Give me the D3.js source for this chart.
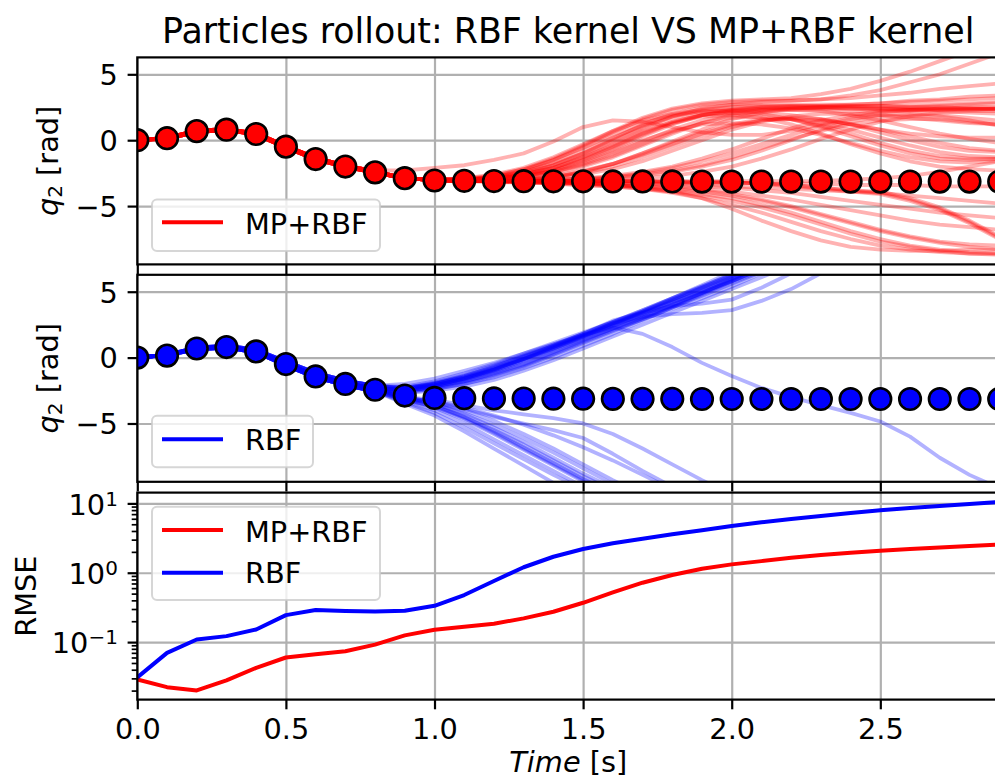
<!DOCTYPE html>
<html><head><meta charset="utf-8">
<script src="https://cdn.jsdelivr.net/npm/d3@7"></script>
<style>body{margin:0;background:#fff}svg{display:block}text{font-family:"DejaVu Sans",sans-serif;fill:#000}</style>
</head><body><svg id="chart" width="995" height="784"></svg>
<script>
// ---------------- DATA ----------------
const times = [0,0.1,0.2,0.3,0.4,0.5,0.6,0.7,0.8,0.9,1.0,1.1,1.2,1.3,1.4,1.5,1.6,1.7,1.8,1.9,2.0,2.1,2.2,2.3,2.4,2.5,2.6,2.7,2.8,2.9];
const groundTruth = [0,0.15,0.69,0.8,0.47,-0.49,-1.43,-2.0,-2.44,-2.88,-3.06,-3.08,-3.1,-3.11,-3.12,-3.12,-3.13,-3.13,-3.13,-3.14,-3.14,-3.14,-3.14,-3.14,-3.14,-3.14,-3.14,-3.14,-3.14,-3.14];
const rmseMPRBF = [0.029,0.0224,0.0201,0.028,0.0426,0.060,0.067,0.074,0.092,0.125,0.151,0.166,0.184,0.22,0.274,0.369,0.52,0.718,0.927,1.14,1.32,1.47,1.64,1.80,1.94,2.08,2.20,2.32,2.43,2.54];
const rmseRBF = [0.031,0.070,0.109,0.122,0.152,0.245,0.29,0.28,0.276,0.283,0.334,0.477,0.76,1.2,1.70,2.20,2.66,3.10,3.58,4.09,4.72,5.34,5.96,6.58,7.27,7.94,8.59,9.17,9.80,10.47];

// early (t = 0 .. 0.8 s) parts of the particle band
const PA = [0,0.15,0.68,0.8,0.47,-0.5,-1.4,-1.98,-2.42];
const PB = [0,0.12,0.62,0.78,0.42,-0.56,-1.46,-2.03,-2.47];
const PC = [0,0.18,0.72,0.84,0.52,-0.44,-1.34,-1.93,-2.37];
const QA = [0,0.2,0.7,0.82,0.5,-0.45,-1.35,-1.95,-2.35];
const QB = [0,0.22,0.75,0.9,0.6,-0.3,-1.15,-1.75,-2.15];
const QC = [0,0.18,0.62,0.75,0.4,-0.6,-1.5,-2.1,-2.55];

const redParticles = [
  [0,0.18,0.72,0.84,0.52,-0.44,-1.34,-1.93,-2.3,-2.3,-2.1,-1.9,-1.5,-1.0,-0.1,1.0,1.5,1.4,1.0,0.6,0.4,0.4,0.7,1.2,1.7,2.1,2.3,2.4,2.4,2.3],
  [...PA,-2.9,-3.0,-2.9,-2.6,-2.1,-1.3,-0.3,0.7,1.5,2.0,2.3,2.5,2.6,2.6,2.6,2.6,2.6,2.6,2.7,2.8,2.9],
  [...PB,-2.9,-3.0,-3.0,-2.8,-2.4,-1.7,-0.8,0.2,1.1,1.8,2.2,2.4,2.5,2.5,2.5,2.4,2.4,2.4,2.4,2.5,2.5],
  [...PC,-2.9,-3.0,-3.0,-2.9,-2.6,-2.1,-1.3,-0.3,0.7,1.4,1.9,2.2,2.3,2.3,2.3,2.2,2.2,2.2,2.3,2.3,2.4],
  [...PA,-2.9,-3.0,-3.1,-3.0,-2.8,-2.4,-1.8,-1.0,-0.1,0.8,1.5,2.0,2.3,2.4,2.5,2.5,2.4,2.3,2.2,2.1,2.0],
  [...PB,-2.9,-3.0,-3.0,-2.7,-2.2,-1.5,-0.6,0.4,1.3,1.9,2.2,2.2,2.1,1.9,1.6,1.2,0.8,0.5,0.3,0.2,0.2],
  [...PC,-2.9,-3.0,-3.1,-3.1,-3.0,-2.8,-2.4,-1.8,-1.0,-0.1,0.8,1.6,2.1,2.4,2.5,2.6,2.6,2.5,2.5,2.4,2.4],
  [...PA,-2.9,-3.0,-3.0,-2.8,-2.3,-1.5,-0.5,0.6,1.6,2.3,2.7,2.9,3.0,3.0,3.1,3.2,3.4,3.6,3.9,4.1,4.3],
  [...PB,-2.9,-3.0,-3.0,-2.9,-2.7,-2.3,-1.6,-0.7,0.3,1.2,1.9,2.3,2.5,2.6,2.6,2.7,2.8,3.0,3.1,3.3,3.4],
  [...PC,-2.9,-3.0,-3.1,-3.0,-2.8,-2.5,-2.0,-1.3,-0.4,0.5,1.3,1.9,2.2,2.3,2.2,1.9,1.5,1.0,0.5,0.1,-0.2],
  [...PB,-2.9,-3.0,-3.0,-2.8,-2.4,-1.8,-1.0,0.0,1.0,1.7,2.1,2.3,2.4,2.4,2.4,2.4,2.3,2.3,2.3,2.4,2.4],
  [...PC,-2.9,-3.0,-3.1,-3.0,-2.7,-2.2,-1.5,-0.6,0.4,1.3,1.9,2.2,2.4,2.5,2.5,2.5,2.5,2.5,2.6,2.7,2.8],
  [...PA,-2.9,-3.0,-3.0,-2.9,-2.5,-1.9,-1.0,0.1,1.2,2.0,2.5,2.7,2.7,2.7,2.7,2.7,2.8,2.9,3.0,3.1,3.2],
  [...PA,-2.9,-3.0,-2.9,-2.7,-2.2,-1.4,-0.4,0.7,1.7,2.4,2.8,3.0,3.1,3.2,3.5,3.9,4.5,5.2,6.0,6.8,7.5],
  [...PB,-2.9,-3.0,-3.0,-2.8,-2.5,-1.9,-1.1,-0.1,0.9,1.8,2.4,2.7,2.9,3.0,3.1,3.4,3.8,4.4,5.0,5.8,6.6],
  [...PC,-2.9,-3.0,-3.0,-2.9,-2.6,-2.1,-1.4,-0.5,0.5,1.3,1.8,1.9,1.7,1.2,0.5,-0.3,-1.0,-1.6,-2.0,-2.2,-2.3],
  [...PA,-2.9,-3.0,-3.1,-3.1,-3.0,-2.9,-2.6,-2.2,-1.6,-0.8,0.0,0.8,1.4,1.8,2.0,2.0,1.9,1.7,1.5,1.3,1.2],
  [...PB,-2.9,-3.0,-3.1,-3.1,-3.1,-3.0,-2.9,-2.7,-2.4,-2.0,-1.4,-0.7,0.1,0.9,1.5,1.9,2.2,2.3,2.4,2.4,2.4],
  [...PC,-2.9,-3.0,-3.0,-2.9,-2.7,-2.3,-1.7,-0.9,0.0,0.7,1.2,1.3,1.2,0.9,0.4,-0.2,-0.8,-1.3,-1.6,-1.7,-1.6],
  [...PA,-2.9,-3.0,-3.1,-3.1,-3.1,-3.1,-3.0,-2.9,-2.7,-2.4,-2.0,-1.5,-0.8,0.0,0.8,1.4,1.8,1.9,1.8,1.5,1.1],
  [...PB,-2.9,-3.0,-3.0,-2.9,-2.6,-2.1,-1.3,-0.4,0.6,1.4,1.9,2.1,2.0,1.6,1.0,0.3,-0.4,-1.0,-1.4,-1.5,-1.4],
  [...PC,-2.9,-3.0,-3.1,-3.1,-3.0,-2.8,-2.5,-2.0,-1.3,-0.5,0.3,1.0,1.5,1.7,1.6,1.2,0.6,0.0,-0.5,-0.8,-0.9],
  [...PA,-2.9,-3.0,-3.1,-3.1,-3.1,-3.0,-2.9,-2.8,-2.6,-2.3,-1.9,-1.3,-0.6,0.1,0.7,1.2,1.5,1.6,1.6,1.4,1.2],
  [...PB,-2.9,-3.0,-3.0,-3.0,-2.9,-2.7,-2.3,-1.8,-1.1,-0.3,0.5,1.1,1.5,1.6,1.5,1.2,0.8,0.3,-0.2,-0.6,-0.8],
  [...PC,-2.9,-3.0,-3.1,-3.1,-3.1,-3.1,-3.1,-3.0,-2.9,-2.7,-2.4,-2.0,-1.4,-0.7,0.1,0.8,1.4,1.8,2.1,2.2,2.2],
  [...PB,-2.9,-3.0,-3.1,-3.1,-3.0,-2.8,-2.4,-1.8,-1.0,-0.2,0.6,1.2,1.6,1.6,1.3,0.8,0.2,-0.4,-0.9,-1.2,-1.3],
  [...PC,-2.9,-3.0,-3.1,-3.1,-3.1,-3.1,-3.0,-2.8,-2.5,-2.1,-1.6,-1.0,-0.3,0.4,1.1,1.6,1.9,2.0,1.9,1.7,1.5],
  [...PA,-2.9,-3.0,-3.0,-2.9,-2.7,-2.4,-1.9,-1.2,-0.3,0.6,1.3,1.7,1.8,1.6,1.1,0.5,-0.2,-0.8,-1.2,-1.4,-1.4],
  [...PA,-2.9,-3.0,-3.1,-3.1,-3.1,-3.1,-3.1,-3.1,-3.1,-3.1,-3.1,-3.1,-3.1,-3.1,-3.1,-3.0,-2.9,-2.7,-2.4,-2.0,-1.6],
  [...PB,-2.9,-3.0,-3.1,-3.1,-3.1,-3.2,-3.2,-3.2,-3.3,-3.3,-3.4,-3.5,-3.6,-3.7,-3.8,-3.9,-4.0,-4.2,-4.4,-4.6,-4.8],
  [...PC,-2.9,-3.0,-3.1,-3.1,-3.1,-3.1,-3.1,-3.1,-3.2,-3.2,-3.2,-3.2,-3.3,-3.3,-3.3,-3.4,-3.4,-3.4,-3.5,-3.5,-3.5],
  [...PA,-2.9,-3.0,-3.1,-3.1,-3.1,-3.1,-3.1,-3.1,-3.1,-3.2,-3.2,-3.2,-3.3,-3.4,-3.6,-3.8,-4.0,-4.5,-5.2,-6.2,-7.4],
  [...PB,-2.9,-3.0,-3.1,-3.1,-3.1,-3.1,-3.1,-3.1,-3.1,-3.2,-3.2,-3.2,-3.3,-3.5,-3.7,-3.9,-4.1,-4.6,-5.3,-6.3,-7.5],
  [...PC,-2.9,-3.0,-3.1,-3.1,-3.1,-3.1,-3.1,-3.1,-3.1,-3.1,-3.2,-3.2,-3.3,-3.4,-3.6,-3.8,-3.9,-4.4,-5.1,-6.1,-7.3],
  [...PA,-2.9,-3.0,-3.1,-3.1,-3.2,-3.2,-3.3,-3.4,-3.6,-3.9,-4.4,-5.2,-6.1,-6.9,-7.6,-8.1,-8.3,-8.4,-8.4,-8.3,-8.3],
  [...PB,-2.9,-3.0,-3.1,-3.1,-3.2,-3.2,-3.3,-3.4,-3.6,-3.8,-4.1,-4.4,-4.9,-5.5,-6.2,-6.9,-7.5,-8.0,-8.3,-8.5,-8.6],
  [...PC,-2.9,-3.0,-3.1,-3.2,-3.2,-3.3,-3.4,-3.5,-3.7,-3.9,-4.2,-4.6,-5.1,-5.7,-6.4,-7.1,-7.7,-8.1,-8.4,-8.6,-8.7],
  [...PA,-2.9,-3.0,-3.1,-3.1,-3.2,-3.2,-3.3,-3.4,-3.5,-3.7,-3.9,-4.2,-4.6,-5.1,-5.7,-6.3,-6.9,-7.4,-7.8,-8.1,-8.3],
  [...PB,-2.9,-3.0,-3.1,-3.1,-3.1,-3.2,-3.2,-3.3,-3.4,-3.5,-3.7,-3.9,-4.2,-4.5,-4.9,-5.3,-5.7,-6.1,-6.4,-6.6,-6.8],
  [...PC,-2.9,-3.0,-3.1,-3.1,-3.1,-3.2,-3.2,-3.3,-3.3,-3.4,-3.5,-3.6,-3.8,-4.0,-4.3,-4.6,-4.9,-5.2,-5.5,-5.7,-5.9],
  [...PB,-2.9,-3.0,-3.1,-3.1,-3.2,-3.3,-3.4,-3.5,-3.7,-4.0,-4.4,-4.9,-5.5,-6.2,-6.9,-7.5,-8.0,-8.3,-8.5,-8.6,-8.6],
  [...PC,-2.9,-3.0,-3.1,-3.1,-3.2,-3.2,-3.3,-3.4,-3.5,-3.6,-3.8,-4.1,-4.5,-5.0,-5.6,-6.2,-6.8,-7.3,-7.7,-7.9,-8.0]
];

const blueParticles = [
  [...QB,-2.3,-1.9,-1.3,-0.6,0.2,1.0,1.8,2.7,3.6,4.5,5.4,6.3,7.2,8.0,8.8,9.5,10,10.5,11,11.5,12],
  [...QA,-2.4,-2.0,-1.5,-0.8,0.0,0.8,1.6,2.5,3.4,4.3,5.2,6.1,7.0,7.8,8.6,9.3,10,10.5,11,11.5,12],
  [...QC,-2.5,-2.2,-1.7,-1.1,-0.3,0.6,1.5,2.4,3.3,4.2,5.1,6.0,6.9,7.8,8.6,9.3,10,10.5,11,11.5,12],
  [...QA,-2.5,-2.3,-1.8,-1.2,-0.5,0.4,1.3,2.2,3.1,4.0,4.9,5.8,6.7,7.6,8.4,9.2,10,10.5,11,11.5,12],
  [...QC,-2.6,-2.4,-2.0,-1.4,-0.7,0.2,1.1,2.0,2.9,3.8,4.7,5.6,6.5,7.4,8.2,9.0,9.8,10.5,11,11.5,12],
  [...QB,-2.4,-2.1,-1.6,-0.9,-0.1,0.7,1.6,2.5,3.5,4.5,5.5,6.5,7.4,8.2,9.0,9.6,10,10.5,11,11.5,12],
  [...QB,-2.2,-1.8,-1.2,-0.5,0.3,1.1,1.9,2.7,3.5,4.4,5.3,6.2,7.1,7.9,8.6,9.3,10,10.5,11,11.5,12],
  [...QB,-2.0,-1.6,-1.0,-0.4,0.3,1.0,1.7,2.4,3.2,4.0,4.9,5.9,6.9,7.8,8.6,9.3,10,10.5,11,11.5,12],
  [...QC,-2.6,-2.4,-2.0,-1.5,-0.8,0.0,0.9,1.8,2.8,3.8,4.8,5.8,6.8,7.7,8.5,9.2,9.9,10.5,11,11.5,12],
  [...QA,-2.5,-2.2,-1.7,-1.0,-0.2,0.6,1.4,2.2,3.0,3.9,4.9,5.9,6.9,7.8,8.6,9.3,10,10.5,11,11.5,12],
  [...QA,-2.3,-1.9,-1.4,-0.7,0.1,0.9,1.7,2.6,3.4,4.2,5.0,5.8,6.7,7.6,8.4,9.2,10,10.5,11,11.5,12],
  [...QC,-2.7,-2.5,-2.2,-1.7,-1.0,-0.2,0.7,1.6,2.5,3.4,4.3,5.2,6.1,7.0,7.9,8.7,9.5,10.2,11,11.5,12],
  [...QA,-2.4,-2.1,-1.6,-0.9,-0.1,0.8,1.7,2.6,3.5,4.4,5.3,6.2,7.1,7.9,8.7,9.4,10,10.5,11,11.5,12],
  [...QB,-2.3,-2.0,-1.4,-0.7,0.1,0.9,1.8,2.7,3.6,4.5,5.4,6.3,7.2,8.0,8.8,9.5,10,10.5,11,11.5,12],
  [...QC,-2.5,-2.3,-1.9,-1.3,-0.6,0.3,1.2,2.1,3.0,3.9,4.8,5.7,6.6,7.5,8.3,9.1,9.8,10.5,11,11.5,12],
  [...QA,-2.4,-2.0,-1.5,-0.9,-0.1,0.7,1.5,2.4,3.3,4.2,5.1,6.0,6.9,7.8,8.6,9.3,10,10.5,11,11.5,12],
  [...QA,-2.4,-2.1,-1.6,-1.0,-0.2,0.7,1.6,2.6,3.1,3.3,3.4,3.6,4.3,5.2,6.4,7.5,8.5,9.3,10,10.5,11],
  [...QB,-2.3,-2.0,-1.5,-0.8,0.0,0.9,1.8,2.8,3.4,3.9,4.1,4.4,5.3,6.4,7.5,8.5,9.4,10,10.5,11,11.5],
  [...QA,-2.5,-2.2,-1.8,-1.2,-0.5,0.3,1.2,2.1,2.9,3.7,4.5,5.4,6.4,7.3,8.2,9.0,9.7,10.3,11,11.5,12],
  [...QB,-2.4,-2.1,-1.6,-0.9,-0.1,0.8,1.7,2.3,1.8,0.8,-0.4,-1.4,-2.3,-3.0,-3.6,-4.2,-4.85,-6.0,-7.6,-8.9,-9.9],
  [...QA,-3.1,-3.6,-4.5,-5.6,-6.8,-8.0,-9.2,-10.3,-11.3,-12,-12.5,-13,-13.3,-13.6,-13.8,-14,-14.2,-14.4,-14.6,-14.8,-15],
  [...QC,-3.3,-4.0,-5.0,-6.2,-7.4,-8.6,-9.8,-10.8,-11.6,-12.2,-12.7,-13,-13.3,-13.6,-13.8,-14,-14.2,-14.4,-14.6,-14.8,-15],
  [...QA,-3.1,-3.5,-4.3,-5.3,-6.4,-7.6,-8.8,-9.9,-10.9,-11.7,-12.3,-12.8,-13.2,-13.5,-13.8,-14,-14.2,-14.4,-14.6,-14.8,-15],
  [...QC,-3.2,-3.8,-4.7,-5.8,-7.0,-8.2,-9.4,-10.5,-11.4,-12.1,-12.6,-13,-13.3,-13.6,-13.8,-14,-14.2,-14.4,-14.6,-14.8,-15],
  [...QA,-3.1,-3.5,-4.2,-5.1,-6.1,-7.2,-8.4,-9.6,-10.6,-11.5,-12.2,-12.7,-13.1,-13.5,-13.8,-14,-14.2,-14.4,-14.6,-14.8,-15],
  [...QC,-3.4,-4.2,-5.3,-6.5,-7.7,-8.9,-10.0,-11.0,-11.8,-12.4,-12.8,-13.1,-13.4,-13.6,-13.8,-14,-14.2,-14.4,-14.6,-14.8,-15],
  [...QA,-3.0,-3.4,-4.0,-4.8,-5.8,-6.9,-8.1,-9.3,-10.4,-11.3,-12.0,-12.6,-13,-13.4,-13.7,-14,-14.2,-14.4,-14.6,-14.8,-15],
  [...QC,-3.2,-3.7,-4.5,-5.5,-6.6,-7.8,-9.0,-10.1,-11.1,-11.9,-12.5,-12.9,-13.2,-13.5,-13.8,-14,-14.2,-14.4,-14.6,-14.8,-15],
  [...QC,-3.5,-4.4,-5.6,-6.9,-8.2,-9.5,-10.7,-11.6,-12.3,-12.8,-13.2,-13.5,-13.7,-13.9,-14,-14.2,-14.4,-14.6,-14.8,-15,-15.2],
  [...QA,-3.2,-3.7,-4.6,-5.7,-6.9,-8.1,-9.3,-10.4,-11.3,-12,-12.5,-13,-13.3,-13.6,-13.8,-14,-14.2,-14.4,-14.6,-14.8,-15],
  [...QA,-3.0,-3.2,-3.6,-4.0,-4.3,-4.6,-5.0,-5.8,-6.9,-8.1,-9.3,-10.4,-11.3,-12,-12.6,-13,-13.4,-13.7,-14,-14.3,-14.5],
  [...QA,-3.0,-3.4,-3.9,-4.5,-5.0,-5.5,-6.1,-7.3,-8.6,-9.8,-10.8,-11.6,-12.2,-12.7,-13.1,-13.5,-13.8,-14,-14.3,-14.5,-14.7],
  [...QC,-3.1,-3.3,-3.8,-4.4,-5.1,-5.9,-6.8,-7.8,-8.9,-10.0,-11,-11.8,-12.4,-12.9,-13.3,-13.6,-13.9,-14.1,-14.3,-14.5,-14.7]
];

const xTicks = [0,0.5,1.0,1.5,2.0,2.5];
const qTicks = [-5,0,5];
const rmseTicks = [0.1,1,10];
const titleText = "Particles rollout: RBF kernel VS MP+RBF kernel";

// ---------------- LAYOUT ----------------
const svg = d3.select("#chart");
const L = 137.3, R = 999.2, PH = 207;
const tops = [57.4, 274.8, 492.6];
const FS = 28.8, GRID = "#b0b0b0", SW = 2.2, TL = 9.7, TP = 9.7;
const RED = "#ff0000", BLUE = "#0000ff";

const x = d3.scaleLinear().domain([0, 2.9]).range([L, R]);
const yTop = d3.scaleLinear().domain([-3*Math.PI, 2*Math.PI]).range([tops[0]+PH, tops[0]]);
const yMid = d3.scaleLinear().domain([-3*Math.PI, 2*Math.PI]).range([tops[1]+PH, tops[1]]);
const yLog = d3.scaleLog().domain([0.01483, 14.3]).range([tops[2]+PH, tops[2]]);

const defs = svg.append("defs");
tops.forEach((t,i) => defs.append("clipPath").attr("id","clip"+i)
  .append("rect").attr("x",L).attr("y",t).attr("width",R-L).attr("height",PH));

function styleGrid(s){ s.select(".domain").remove(); s.selectAll("line").attr("stroke",GRID).attr("stroke-width",SW); }
function grid(y, yTicks, top){
  svg.append("g").attr("transform",`translate(0,${top+PH})`)
    .call(d3.axisBottom(x).tickValues(xTicks).tickSize(-PH).tickFormat("")).call(styleGrid);
  svg.append("g").attr("transform",`translate(${L},0)`)
    .call(d3.axisLeft(y).tickValues(yTicks).tickSize(-(R-L)).tickFormat("")).call(styleGrid);
}
grid(yTop, qTicks, tops[0]);
grid(yMid, qTicks, tops[1]);
grid(yLog, rmseTicks, tops[2]);

// particles
const line = (y) => d3.line().defined(d => d!=null).x((d,i) => x(times[i])).y(d => y(d));
function particles(data, y, color, idx){
  svg.append("g").attr("clip-path",`url(#clip${idx})`).selectAll("path").data(data).join("path")
    .attr("d", line(y)).attr("fill","none").attr("stroke",color).attr("stroke-opacity",0.3)
    .attr("stroke-width",3.8).attr("stroke-linejoin","round");
}
particles(redParticles, yTop, RED, 0);
particles(blueParticles, yMid, BLUE, 1);

function markers(y, color, idx){
  svg.append("g").attr("clip-path",`url(#clip${idx})`).selectAll("circle").data(groundTruth).join("circle")
    .attr("cx",(d,i)=>x(times[i])).attr("cy",d=>y(d)).attr("r",10.8)
    .attr("fill",color).attr("stroke","#000").attr("stroke-width",2.6);
}
markers(yTop, RED, 0);
markers(yMid, BLUE, 1);

// RMSE lines
const g3 = svg.append("g").attr("clip-path","url(#clip2)");
[[rmseMPRBF,RED],[rmseRBF,BLUE]].forEach(([d,c]) => g3.append("path").datum(d)
  .attr("d", line(yLog)).attr("fill","none").attr("stroke",c).attr("stroke-width",4).attr("stroke-linejoin","round"));

// spines
tops.forEach(t => svg.append("rect").attr("x",L).attr("y",t).attr("width",R-L).attr("height",PH)
  .attr("fill","none").attr("stroke","#000").attr("stroke-width",SW));

// axes
function styleAxis(g){ g.select(".domain").remove(); g.selectAll("line").attr("stroke","#000").attr("stroke-width",SW);
  g.selectAll("text").attr("font-size",FS).attr("font-family","DejaVu Sans").attr("fill","#000"); }
tops.forEach((t,i) => {
  const ax = d3.axisBottom(x).tickValues(xTicks).tickSize(TL).tickPadding(TP)
    .tickFormat(i===2 ? d3.format(".1f") : "");
  svg.append("g").attr("transform",`translate(0,${t+PH})`).call(ax).call(styleAxis);
});
[yTop, yMid].forEach(y => {
  const g = svg.append("g").attr("transform",`translate(${L},0)`)
    .call(d3.axisLeft(y).tickValues(qTicks).tickSize(TL).tickPadding(TP).tickFormat(d3.format("d"))).call(styleAxis);
  g.selectAll("text").attr("dy","0.36em");
});
// log axis: minor ticks
const minor = yLog.ticks().filter(v => Math.abs(Math.log10(v) - Math.round(Math.log10(v))) > 1e-6);
svg.append("g").attr("transform",`translate(${L},0)`)
  .call(d3.axisLeft(yLog).tickValues(minor).tickSize(5.6).tickFormat(""))
  .call(g => { g.select(".domain").remove(); g.selectAll("line").attr("stroke","#000").attr("stroke-width",1.7); });
// log axis: major ticks with 10^n labels
const gl = svg.append("g").attr("transform",`translate(${L},0)`)
  .call(d3.axisLeft(yLog).tickValues(rmseTicks).tickSize(TL).tickPadding(TP).tickFormat("")).call(styleAxis);
gl.selectAll(".tick text").each(function(d){
  const t = d3.select(this); const e = Math.round(Math.log10(d));
  t.text(null).attr("dy",null).attr("y",10.7);
  t.append("tspan").text("10");
  t.append("tspan").attr("font-size",20).attr("dy",-9).text(e<0 ? "\u2212"+(-e) : String(e));
});

// labels
svg.append("text").attr("x",(L+R)/2).attr("y",42.5).attr("text-anchor","middle").attr("font-size",34.8).text(titleText);
[tops[0], tops[1]].forEach(t => {
  const tx = svg.append("text").attr("transform",`translate(58,${t+PH/2}) rotate(-90)`)
    .attr("text-anchor","middle").attr("font-size",FS);
  tx.append("tspan").attr("font-style","italic").text("q");
  tx.append("tspan").attr("font-size",20).attr("dy",4).text("2");
  tx.append("tspan").attr("dy",-4).text(" [rad]");
});
svg.append("text").attr("transform",`translate(35.5,${tops[2]+PH/2}) rotate(-90)`)
  .attr("text-anchor","middle").attr("font-size",FS).text("RMSE");
const xl = svg.append("text").attr("x",(L+R)/2).attr("y",771.5).attr("text-anchor","middle").attr("font-size",FS);
xl.append("tspan").attr("font-style","italic").text("Time");
xl.append("tspan").text(" [s]");

// legends
function legend(x0, y0, w, h, entries){
  const g = svg.append("g");
  g.append("rect").attr("x",x0).attr("y",y0).attr("width",w).attr("height",h).attr("rx",5)
    .attr("fill","#fff").attr("fill-opacity",0.8).attr("stroke","#cccccc").attr("stroke-opacity",0.8).attr("stroke-width",2);
  entries.forEach(en => {
    g.append("line").attr("x1",162).attr("x2",223).attr("y1",en.ly).attr("y2",en.ly)
      .attr("stroke",en.c).attr("stroke-width",4);
    g.append("text").attr("x",245).attr("y",en.ty).attr("font-size",FS).text(en.label);
  });
}
legend(152, 199.5, 228, 51.5, [{c:RED, label:"MP+RBF", ly:222.3, ty:234}]);
legend(152, 415.7, 161, 51.5, [{c:BLUE, label:"RBF", ly:439.3, ty:450}]);
legend(152, 506.7, 228, 93.3, [{c:RED, label:"MP+RBF", ly:530, ty:541.7},{c:BLUE, label:"RBF", ly:572.7, ty:583.3}]);
</script></body></html>
